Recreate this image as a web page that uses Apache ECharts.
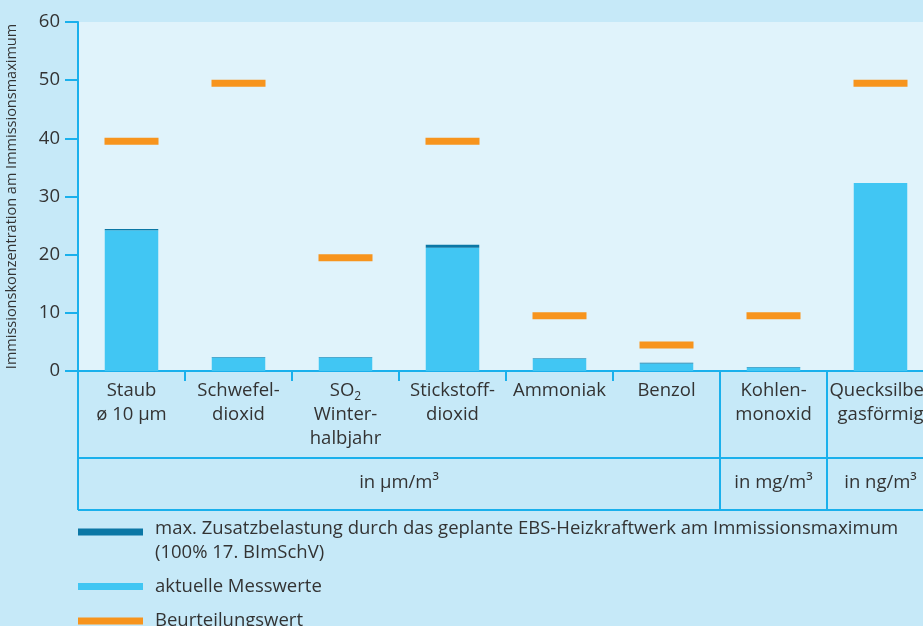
<!DOCTYPE html>
<html>
<head>
<meta charset="utf-8">
<script src="https://cdn.jsdelivr.net/npm/echarts@6/dist/echarts.min.js"></script>
<style>
html,body{margin:0;padding:0;background:#c6e9f8;}
#c{width:923px;height:626px;}
</style>
</head>
<body>
<div id="c"></div>
<script>
const categories = ['Staub\nø 10 µm','Schwefel-\ndioxid','SO2\nWinter-\nhalbjahr','Stickstoff-\ndioxid','Ammoniak','Benzol','Kohlen-\nmonoxid','Quecksilber\ngasförmig'];
const messwerte = [24.2, 2.3, 2.3, 21.2, 2.1, 1.3, 0.6, 32.3];
const zusatz = [0.2, 0.1, 0.1, 0.5, 0.1, 0.1, 0.1, 0];
const beurteilung = [40, 50, 20, 40, 10, 5, 10, 50];
const yMin = 0, yMax = 60, yStep = 10;
const unitLabels = ['in µm/m³', 'in mg/m³', 'in ng/m³'];
const unitStart = [0, 6, 7];
const unitEnd = [5, 6, 7];
const seriesNames = ['max. Zusatzbelastung durch das geplante EBS-Heizkraftwerk am Immissionsmaximum\n(100% 17. BImSchV)', 'aktuelle Messwerte', 'Beurteilungswert'];
const yName = 'Immissionskonzentration am Immissionsmaximum';

const C_AXIS = '#1ab0ec', C_LIGHT = '#41c6f3', C_DARK = '#0b77a5', C_ORANGE = '#f7941d', C_TEXT = '#333333';
const FONT = 'Open Sans';

const chart = echarts.init(document.getElementById('c'), null, {renderer: 'canvas'});
const option = {
  backgroundColor: '#c6e9f8',
  animation: false,
  textStyle: {fontFamily: FONT, color: C_TEXT},
  grid: {left: 78, top: 22, width: 856, height: 349, show: true, backgroundColor: '#e0f3fb', borderWidth: 0, containLabel: false, outerBoundsMode: 'none'},
  xAxis: {
    type: 'category', data: categories,
    axisLine: {lineStyle: {color: C_AXIS, width: 2}},
    axisTick: {show: true, length: 10, lineStyle: {color: C_AXIS, width: 2}},
    axisLabel: {
      interval: 0, margin: 8, color: C_TEXT, fontSize: 18.5, lineHeight: 24, fontFamily: FONT,
      formatter: v => v.replace('SO2', 'SO{sub|2}'),
      rich: {sub: {fontSize: 12, fontFamily: FONT, color: C_TEXT, padding: [12, 0, 0, 0]}}
    },
    splitLine: {show: false}
  },
  yAxis: {
    type: 'value', min: yMin, max: yMax, interval: yStep,
    name: yName, nameLocation: 'middle', nameGap: 59, nameRotate: 90,
    nameTextStyle: {fontSize: 14.5, color: C_TEXT, fontFamily: FONT},
    axisLine: {show: true, lineStyle: {color: C_AXIS, width: 2}},
    axisTick: {show: true, length: 13, lineStyle: {color: C_AXIS, width: 2}},
    axisLabel: {fontSize: 18.5, color: C_TEXT, margin: 18, fontFamily: FONT},
    splitLine: {show: false}
  },
  legend: {
    orient: 'vertical', left: 73, top: 494, height: 200, itemWidth: 65, itemHeight: 7, itemGap: 8.5,
    icon: 'rect', selectedMode: false,
    formatter: n => (n === seriesNames[0] ? '{gap| }\n' : '') + n,
    textStyle: {fontSize: 18.5, color: C_TEXT, fontFamily: FONT, lineHeight: 26, padding: [0, 0, 0, 7],
      rich: {gap: {fontSize: 8, lineHeight: 18}}},
    data: [
      {name: seriesNames[0], textStyle: {lineHeight: 24}},
      {name: seriesNames[1]},
      {name: seriesNames[2]}
    ]
  },
  series: [
    {name: seriesNames[1], type: 'bar', stack: 's', data: messwerte, barWidth: '50%', itemStyle: {color: C_LIGHT}},
    {name: seriesNames[0], type: 'bar', stack: 's', data: zusatz, barWidth: '50%', itemStyle: {color: C_DARK}},
    {name: seriesNames[2], type: 'scatter', data: beurteilung, symbol: 'rect', symbolSize: [54, 7], symbolOffset: [0, 3], itemStyle: {color: C_ORANGE, opacity: 1}, z: 5}
  ]
};
chart.setOption(option);

const px = i => chart.convertToPixel({xAxisIndex: 0}, i);
const y0 = chart.convertToPixel({yAxisIndex: 0}, yMin);
const half = (px(1) - px(0)) / 2;
const rowLine = y0 + 87, bottomLine = y0 + 139;
const lineStyle = {stroke: C_AXIS, lineWidth: 2};
const gfx = [];
const xl = px(0) - half, xr = px(categories.length - 1) + half;
gfx.push({type: 'line', shape: {x1: xl, y1: y0, x2: xl, y2: bottomLine}, style: lineStyle});
gfx.push({type: 'line', shape: {x1: xl, y1: rowLine, x2: xr, y2: rowLine}, style: lineStyle});
gfx.push({type: 'line', shape: {x1: xl, y1: bottomLine, x2: xr, y2: bottomLine}, style: lineStyle});
unitLabels.forEach((t, k) => {
  const a = px(unitStart[k]) - half, b = px(unitEnd[k]) + half;
  if (k > 0) gfx.push({type: 'line', shape: {x1: a, y1: y0, x2: a, y2: bottomLine}, style: lineStyle});
  gfx.push({type: 'text', x: (a + b) / 2, y: (rowLine + bottomLine) / 2 - 1,
    style: {text: t, fill: C_TEXT, font: '18.5px ' + FONT, align: 'center', verticalAlign: 'middle'}});
});
chart.setOption({graphic: gfx});
</script>
</body>
</html>
